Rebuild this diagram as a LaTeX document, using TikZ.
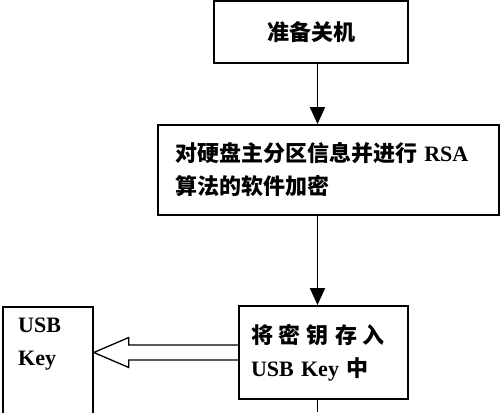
\documentclass[tikz,border=0pt]{standalone}
\usepackage{fontspec}
\setmainfont{Liberation Serif}
\newfontfamily\cjk{Noto Sans CJK SC}
\newcommand{\zh}[1]{{\cjk #1}}
\usepackage{tikz}
\usetikzlibrary{arrows.meta,calc}

\begin{document}
\begin{tikzpicture}[x=1pt,y=-1pt,
  every node/.style={font=\fontsize{22}{33}\selectfont\bfseries},
  stepbox/.style={draw,line width=1.8pt,inner sep=0pt},
  flow/.style={line width=1.8pt,-{Triangle[length=17pt,width=15pt]}},
  hollow/.style={line width=1.3pt}]
\useasboundingbox (0,0) rectangle (500,412);
\clip (0,0) rectangle (500,412);

\node[stepbox,minimum width=194pt,minimum height=62pt] (halt) at (311,32) {\zh{准备关机}};
\node[stepbox,minimum width=341pt,minimum height=90pt,text width=307pt,align=left] (rsa) at (328.5,170)
  {\zh{对硬盘主分区信息并进行} RSA\\\zh{算法的软件加密}};
\node[stepbox,minimum width=169pt,minimum height=93pt,text width=145pt,align=left] (store) at (323.5,352.5)
  {\zh{将\hspace{6pt}密\hspace{6pt}钥\hspace{6pt}存\hspace{6pt}入}\\USB Key \zh{中}};
\node[stepbox,minimum width=90pt,minimum height=130pt,anchor=north west] (usb) at (2,306) {};
\node[anchor=north west,align=left,inner sep=0pt] (usbtext) at (18,318) {USB\\Key};

\coordinate (axis) at (317.5,0);
\coordinate (down) at (317.5,412);
\coordinate (tip) at (usb.east |- store.west);

\draw[flow] (axis |- halt.south) -- (axis |- rsa.north);
\draw[flow] (axis |- rsa.south) -- (axis |- store.north);
\draw[line width=1.8pt] (axis |- store.south) -- (down);

\draw[hollow] ([yshift=7.5pt]store.west) -- ([xshift=35pt,yshift=7.5pt]tip)
  -- ([xshift=35pt,yshift=15pt]tip) -- (tip) -- ([xshift=35pt,yshift=-15pt]tip)
  -- ([xshift=35pt,yshift=-7.5pt]tip) -- ([yshift=-7.5pt]store.west);
\end{tikzpicture}
\end{document}
